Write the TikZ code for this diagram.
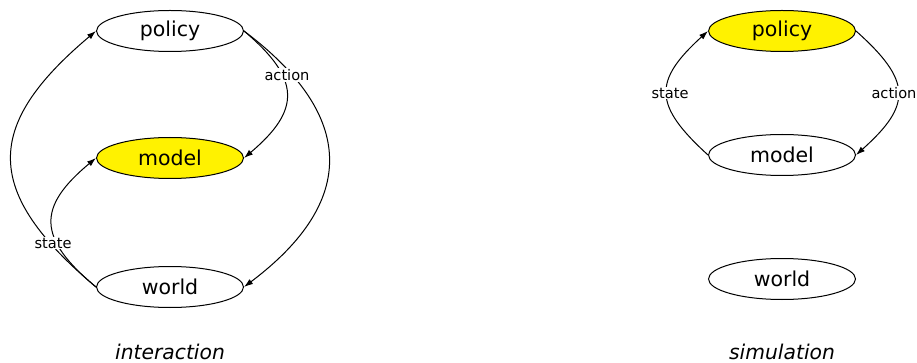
\documentclass[tikz,border=0pt]{standalone}
\usepackage{fontspec}
\setsansfont{DejaVu Sans}
\usetikzlibrary{shapes.geometric,arrows.meta}
\begin{document}
\begin{tikzpicture}[x=1pt,y=-1pt,
  font=\sffamily,
  state/.style={ellipse,draw,line width=1pt,minimum width=147pt,minimum height=41pt,inner sep=0pt,font=\sffamily\fontsize{20.5}{24}\selectfont},
  hot/.style={state,fill=yellow},
  edge/.style={line width=1pt,-{Latex[length=9pt,width=6pt]}},
  elabel/.style={fill=white,inner sep=1pt,font=\sffamily\fontsize{14.6}{17}\selectfont},
  caption/.style={font=\sffamily\itshape\fontsize{20.3}{24}\selectfont}]
\useasboundingbox (0,0) rectangle (917,363);
% interaction
\node[state] (pol1) at (170,31) {policy};
\node[hot] (mod1) at (170,158) {model};
\node[state] (wor1) at (170,287) {world};
\node[caption] (cap1) at (170,352) {interaction};
% action edges
\draw[edge] (pol1.east) .. controls +(57,48) and +(57,-48) .. (mod1.east);
\draw[edge] (pol1.east) .. controls +(113,85) and +(113,-85) .. (wor1.east);
\node[elabel] (act1) at (287,75) {action};
% state edges
\draw[edge] (wor1.west) .. controls +(-59,-49) and +(-59,49) .. (mod1.west);
\draw[edge] (wor1.west) .. controls +(-113,-95) and +(-113,95) .. (pol1.west);
\node[elabel] (sta1) at (53,243) {state};
% simulation
\node[hot] (pol2) at (782,31) {policy};
\node[state] (mod2) at (782,155) {model};
\node[state] (wor2) at (782,279) {world};
\node[caption] (cap2) at (782,352) {simulation};
\draw[edge] (mod2.west) .. controls +(-55,-50) and +(-55,50) .. (pol2.west);
\draw[edge] (pol2.east) .. controls +(56,50) and +(56,-50) .. (mod2.east);
\node[elabel] (sta2) at (670,93) {state};
\node[elabel] (act2) at (894,93) {action};
\end{tikzpicture}
\end{document}
